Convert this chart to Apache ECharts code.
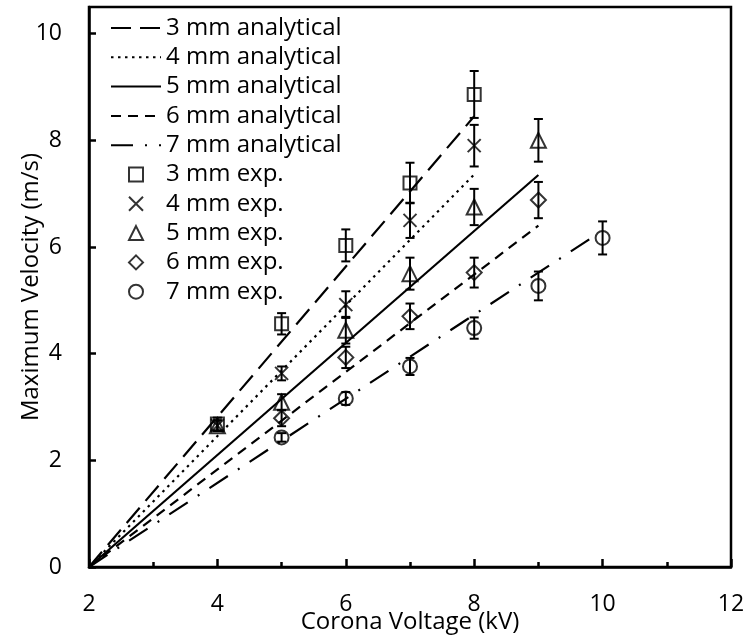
<!DOCTYPE html>
<html>
<head>
<meta charset="utf-8">
<script src="https://cdn.jsdelivr.net/npm/echarts@6/dist/echarts.min.js"></script>
<style>
  html, body { margin: 0; padding: 0; background: #fff; }
  #chart { width: 744px; height: 643px; }
</style>
</head>
<body>
<div id="chart"></div>
<script>
// analytical lines: [start, end] in kV / m/s
const ana3 = [[2, 0], [8, 8.45]];
const ana4 = [[2, 0], [8, 7.36]];
const ana5 = [[2, 0], [9, 7.35]];
const ana6 = [[2, 0], [9, 6.4]];
const ana7 = [[2, 0], [9.8, 6.15]];

// experimental points
const x3 = [4, 5, 6, 7, 8];
const y3 = [2.68, 4.56, 6.03, 7.2, 8.86];
const e3 = [0.12, 0.2, 0.3, 0.38, 0.44];

const x4 = [4, 5, 6, 7, 8];
const y4 = [2.65, 3.63, 4.92, 6.5, 7.9];
const e4 = [0.1, 0.13, 0.25, 0.33, 0.39];

const x5 = [4, 5, 6, 7, 8, 9];
const y5 = [2.65, 3.09, 4.44, 5.5, 6.75, 8.0];
const e5 = [0.1, 0.15, 0.25, 0.3, 0.34, 0.4];

const x6 = [5, 6, 7, 8, 9];
const y6 = [2.79, 3.93, 4.7, 5.52, 6.88];
const e6 = [0.15, 0.2, 0.24, 0.28, 0.34];

const x7 = [5, 6, 7, 8, 9, 10];
const y7 = [2.43, 3.16, 3.76, 4.48, 5.27, 6.17];
const e7 = [0.08, 0.12, 0.16, 0.2, 0.27, 0.31];

const FONT = "'Open Sans', 'Noto Sans', sans-serif";

const pts = (xs, ys) => xs.map((x, i) => [x, ys[i]]);
const errs = (xs, ys, es) => xs.map((x, i) => [x, ys[i] - es[i], ys[i] + es[i]]);

const lineSeries = (name, data, type) => ({
  name: name,
  type: "line",
  data: data,
  symbol: "none",
  z: 2,
  lineStyle: { color: "#000", width: 2.2, type: type },
  // keeps the legend from drawing a dot on the line icon
  itemStyle: { color: "#000", opacity: 0 }
});

const markStyle = { color: "rgba(0,0,0,0)", borderColor: "#000", borderWidth: 2 };

const scatterSeries = (name, data, symbol, size) => ({
  name: name,
  type: "scatter",
  data: data,
  symbol: symbol,
  symbolSize: size,
  symbolKeepAspect: true,
  z: 4,
  itemStyle: markStyle
});

// vertical error bar with caps
const errSeries = (data) => ({
  type: "custom",
  data: data,
  z: 3,
  renderItem: (params, api) => {
    const lo = api.coord([api.value(0), api.value(1)]);
    const hi = api.coord([api.value(0), api.value(2)]);
    const w = 4.5;
    const st = { stroke: "#000", lineWidth: 2, fill: null };
    return {
      type: "group",
      children: [
        { type: "line", shape: { x1: lo[0], y1: lo[1], x2: hi[0], y2: hi[1] }, style: st },
        { type: "line", shape: { x1: lo[0] - w, y1: lo[1], x2: lo[0] + w, y2: lo[1] }, style: st },
        { type: "line", shape: { x1: hi[0] - w, y1: hi[1], x2: hi[0] + w, y2: hi[1] }, style: st }
      ]
    };
  }
});

const SQUARE = "path://M0,0H10V10H0Z";
const CROSS = "path://M0,0L10,10M10,0L0,10";
const TRIANGLE = "path://M5,0L10,10H0Z";
const DIAMOND = "path://M5,0L10,5L5,10L0,5Z";
const CIRCLE = "path://M0,5A5,5,0,1,1,10,5A5,5,0,1,1,0,5Z";

const chart = echarts.init(document.getElementById("chart"));
chart.setOption({
  animation: false,
  textStyle: { fontFamily: FONT },
  grid: {
    left: 89, right: 13, top: 7, bottom: 76,
    outerBoundsMode: "none",
    containLabel: false,
    show: true, borderColor: "#000", borderWidth: 2.5
  },
  legend: {
    orient: "vertical",
    left: 105, top: 11,
    itemWidth: 50, itemHeight: 14, itemGap: 5.3,
    textStyle: { fontFamily: FONT, fontSize: 24, color: "#000" },
    data: [
      "3 mm analytical", "4 mm analytical", "5 mm analytical", "6 mm analytical", "7 mm analytical",
      "3 mm exp.", "4 mm exp.", "5 mm exp.", "6 mm exp.", "7 mm exp."
    ]
  },
  xAxis: {
    type: "value",
    min: 2, max: 12, interval: 2,
    name: "Corona Voltage (kV)",
    nameLocation: "middle", nameGap: 43,
    nameMoveOverlap: false,
    nameTextStyle: { fontFamily: FONT, fontSize: 24, color: "#000" },
    axisLine: { lineStyle: { color: "#000", width: 2.5 } },
    axisTick: { inside: true, length: 8, lineStyle: { color: "#000", width: 2.5 } },
    minorTick: { show: true, splitNumber: 2, length: 5, lineStyle: { color: "#000", width: 2.5 } },
    axisLabel: { fontFamily: FONT, fontSize: 23, color: "#000", margin: 26 },
    splitLine: { show: false }
  },
  yAxis: {
    type: "value",
    min: 0, max: 10.5, interval: 2,
    name: "Maximum Velocity (m/s)",
    nameLocation: "middle", nameGap: 46,
    nameMoveOverlap: false,
    nameTextStyle: { fontFamily: FONT, fontSize: 24, color: "#000" },
    axisLine: { lineStyle: { color: "#000", width: 2.5 } },
    axisTick: { inside: true, length: 7, lineStyle: { color: "#000", width: 2.5 } },
    axisLabel: {
      fontFamily: FONT, fontSize: 23, color: "#000", margin: 27,
      showMaxLabel: false,
      formatter: (v) => (v % 2 === 0 ? String(v) : "")
    },
    splitLine: { show: false }
  },
  series: [
    lineSeries("3 mm analytical", ana3, [20, 9]),
    lineSeries("4 mm analytical", ana4, [2.5, 4.5]),
    lineSeries("5 mm analytical", ana5, "solid"),
    lineSeries("6 mm analytical", ana6, [10, 7]),
    lineSeries("7 mm analytical", ana7, [22, 12, 2, 12]),
    errSeries(errs(x3, y3, e3)),
    errSeries(errs(x4, y4, e4)),
    errSeries(errs(x5, y5, e5)),
    errSeries(errs(x6, y6, e6)),
    errSeries(errs(x7, y7, e7)),
    scatterSeries("3 mm exp.", pts(x3, y3), SQUARE, 13),
    scatterSeries("4 mm exp.", pts(x4, y4), CROSS, 13),
    scatterSeries("5 mm exp.", pts(x5, y5), TRIANGLE, 15),
    scatterSeries("6 mm exp.", pts(x6, y6), DIAMOND, 15),
    scatterSeries("7 mm exp.", pts(x7, y7), CIRCLE, 14)
  ]
});
</script>
</body>
</html>
